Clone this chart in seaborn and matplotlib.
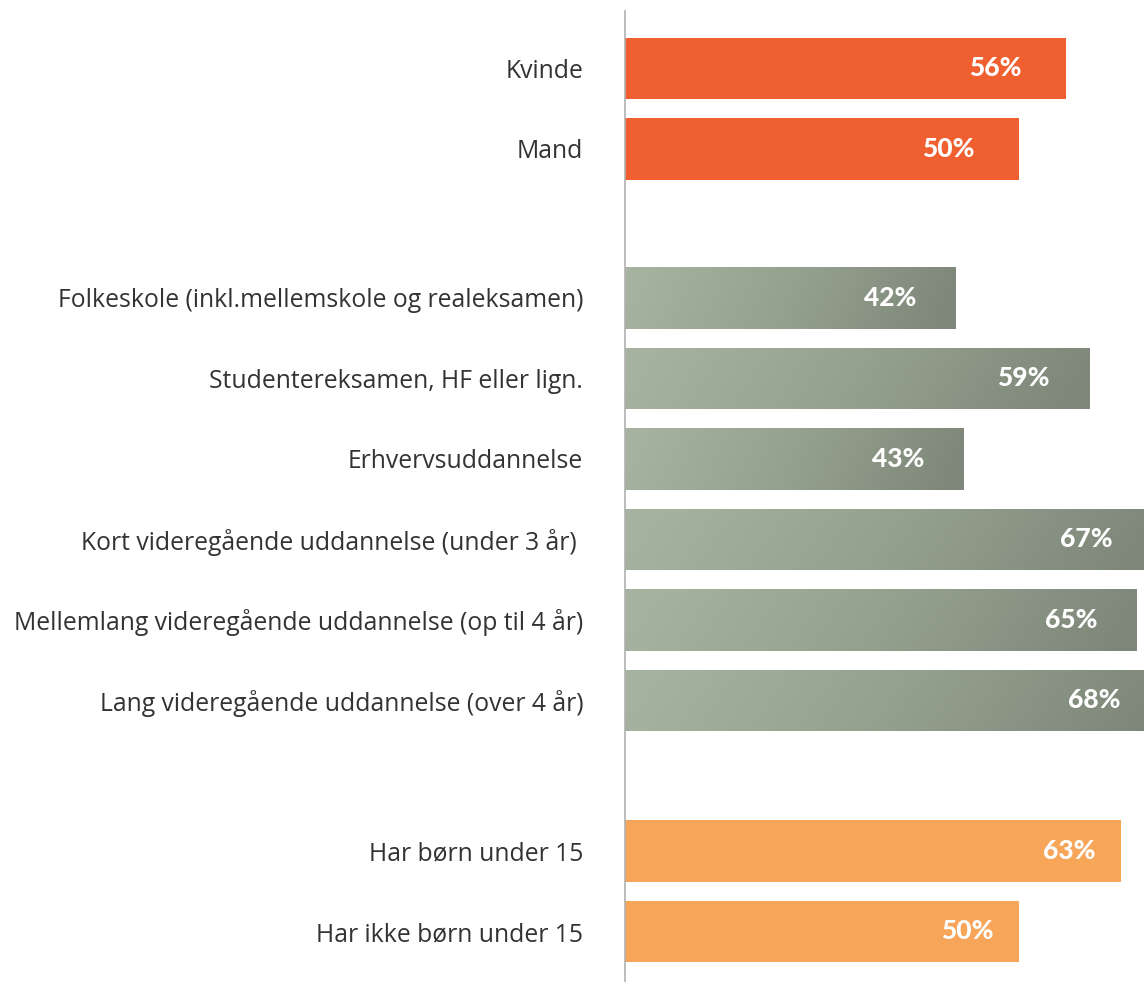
import numpy as np
import pandas as pd
import matplotlib
matplotlib.use("Agg")
import matplotlib.pyplot as plt
from matplotlib.colors import to_rgb
import seaborn as sns

# ---- data ----
categories = [
    "Kvinde", "Mand",
    "Folkeskole (inkl.mellemskole og realeksamen)",
    "Studentereksamen, HF eller lign.",
    "Erhvervsuddannelse",
    "Kort videregående uddannelse (under 3 år) ",
    "Mellemlang videregående uddannelse (op til 4 år)",
    "Lang videregående uddannelse (over 4 år)",
    "Har børn under 15",
    "Har ikke børn under 15",
]
values = [56, 50, 42, 59, 43, 67, 65, 68, 63, 50]
groups = ["køn", "køn", "udd", "udd", "udd", "udd", "udd", "udd", "børn", "børn"]

# ---- layout (group starts on the row axis) ----
group_start = {"køn": 0.0, "udd": 2.85, "børn": 9.72}
pos = []
counter = {}
for g in groups:
    k = counter.get(g, 0)
    pos.append(group_start[g] + k)
    counter[g] = k + 1

df = pd.DataFrame({"cat": categories, "value": values, "group": groups, "pos": pos})

palette = {"køn": "#f05f30", "udd": "#96a18f", "børn": "#f7a559"}
label_offset = {"køn": 5.6, "udd": 5.0, "børn": 3.2}

sns.set_style("white")
plt.rcParams["font.family"] = ["Open Sans", "DejaVu Sans"]

fig = plt.figure(figsize=(11.44, 9.82), dpi=100)
ax = fig.add_axes([625 / 1144, 0.0, 1 - 625 / 1144, 1 - 11 / 982])

sns.barplot(data=df, x="value", y="pos", hue="group", palette=palette,
            orient="y", native_scale=True, width=0.76, dodge=False,
            legend=False, ax=ax, saturation=1, linewidth=0)

xmax = (1144 - 625) / 7.87
ymin = (11 - 68.5) / 80.5
ymax = (982 - 68.5) / 80.5

# gradient for the education bars
udd_pos = set(np.round(df.loc[df.group == "udd", "pos"], 3))
c_left = np.array(to_rgb("#a5b3a0"))
c_mid = np.array(to_rgb("#95a18f"))
c_right = np.array(to_rgb("#7e8779"))
nx, ny = 300, 30
xs = np.linspace(0, 1, nx)[None, :]
ys = np.linspace(0, 1, ny)[:, None]
t = np.clip(xs + 0.08 * (ys - 0.5), 0, 1)
t3 = t[..., None]
grad = np.where(t3 < 0.5,
                c_left + (c_mid - c_left) * (t3 / 0.5),
                c_mid + (c_right - c_mid) * ((t3 - 0.5) / 0.5))
for p in list(ax.patches):
    x0, y0 = p.get_x(), p.get_y()
    w, h = p.get_width(), p.get_height()
    yc = round(y0 + h / 2, 3)
    if any(abs(yc - u) < 0.01 for u in udd_pos):
        im = ax.imshow(grad, extent=[x0, x0 + w, y0 + h, y0], aspect="auto",
                       interpolation="bilinear", zorder=p.get_zorder() + 0.1)
        im.set_clip_path(p)

ax.set_xlim(0, xmax)
ax.set_ylim(ymax, ymin)

# value labels
for _, r in df.iterrows():
    ax.text(r.value - label_offset[r.group], r.pos, f"{r.value}%",
            ha="right", va="center", color="white", fontsize=19,
            fontweight="black", family=["Lato", "DejaVu Sans"], zorder=5,
            clip_on=False)

ax.set_yticks(df.pos)
ax.set_yticklabels(df.cat)
ax.tick_params(axis="y", length=0, pad=30, labelsize=17.8, labelcolor="#333333")
for lab in ax.get_yticklabels():
    lab.set_fontweight("normal")
ax.set_xticks([])
ax.set_xlabel("")
ax.set_ylabel("")
for s in ["top", "right", "bottom"]:
    ax.spines[s].set_visible(False)
ax.spines["left"].set_color("#b0b0b0")
ax.spines["left"].set_linewidth(1.2)
ax.patch.set_alpha(0)

fig.savefig("out.png", dpi=100)
